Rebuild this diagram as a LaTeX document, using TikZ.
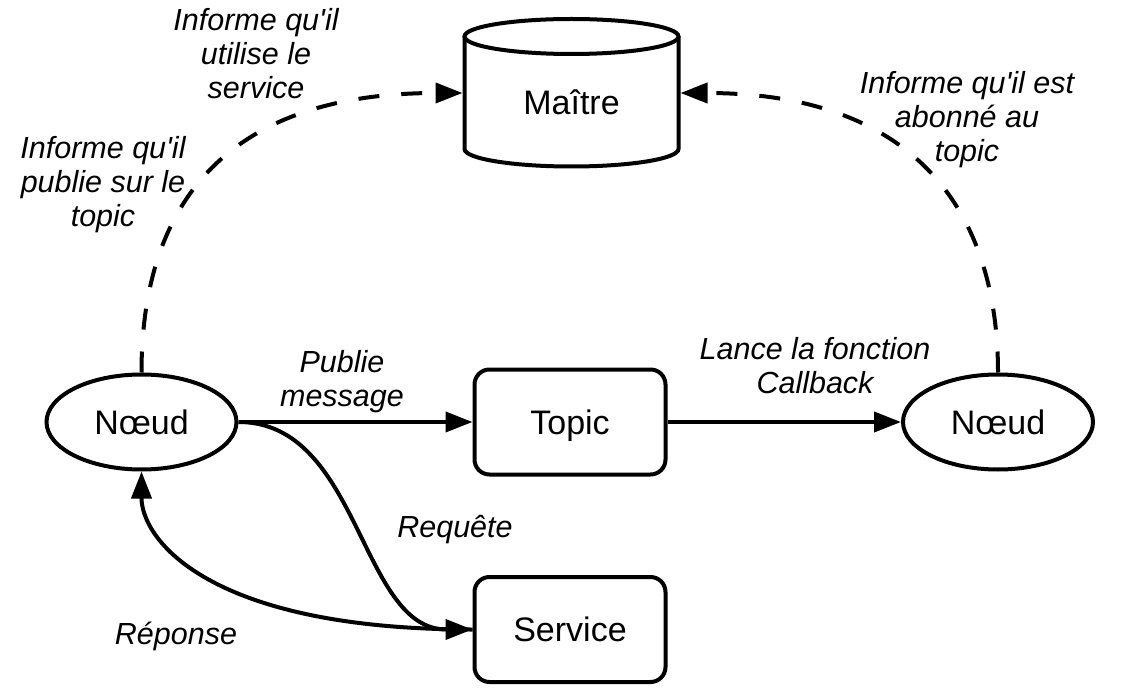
\documentclass[tikz,border=0pt]{standalone}
\usepackage{fontspec}
\setmainfont{Liberation Sans}
\usetikzlibrary{arrows.meta,shapes.geometric}
\newcommand{\apos}{\textquotesingle}
\begin{document}
\begin{tikzpicture}[x=1pt,y=-1pt,
  line width=4pt,
  every node/.style={font=\fontsize{34}{40}\selectfont},
  nodeshape/.style={draw, ellipse, minimum width=190pt, minimum height=95pt, inner sep=0pt, fill=white, text depth=0pt},
  boxshape/.style={draw, rounded corners=15pt, minimum width=191pt, minimum height=105pt, inner sep=0pt, fill=white, text depth=0pt},
  lbl/.style={align=center, font=\fontsize{30.5}{34}\selectfont\itshape, inner sep=0pt},
  conn/.style={-{Triangle[length=27pt,width=20pt]}},
  dconn/.style={conn, dash pattern=on 21pt off 22pt}
]
\useasboundingbox[fill=white] (0,0) rectangle (1148,700);

% Maitre (cylinder)
\node[minimum width=214pt, minimum height=150pt, inner sep=0pt] (maitre) at (571.5,93) {};
\draw[fill=white] (464.5,36.5) -- (464.5,149) arc[start angle=180, end angle=360, x radius=107pt, y radius=17.5pt] -- (678.5,36.5);
\draw (571.5,36.5) ellipse[x radius=107pt, y radius=17.5pt];
\node (maitretxt) at (571.5,102.5) {Maître};

% nodes
\node[nodeshape] (n1) at (141.5,422) {Nœud};
\node[nodeshape] (n2) at (998,422) {Nœud};
\node[boxshape] (topic) at (570,422) {Topic};
\node[boxshape] (service) at (570,629.5) {Service};

% connectors
\draw[conn] (n1.east) -- (topic.west);
\draw[conn] (topic.east) -- (n2.west);
\draw[conn] (n1.east) .. controls +(122,0) and +(-113,0) .. (service.west);
\draw[conn] (service.west) .. controls +(-264,0) and +(0,68) .. (n1.south);
\draw[dconn] (n1.north) .. controls +(0,-128) and +(-272,0) .. (maitre.west);
\draw[dconn] (n2.north) .. controls +(0,-152) and +(243,0) .. (maitre.east);

% labels
\node[lbl] (l1) at (342,382) {Publie\\message};
\node[lbl] (l2) at (815,365.5) {Lance la fonction\\Callback};
\node[lbl] (l3) at (455,530) {Requête};
\node[lbl] (l4) at (176,636) {Réponse};
\node[lbl] (l5) at (256,54) {Informe qu\apos il\\utilise le\\service};
\node[lbl] (l6) at (103,184.5) {Informe qu\apos il\\publie sur le\\topic};
\node[lbl] (l7) at (967,119.5) {Informe qu\apos il est\\abonné au\\topic};
\end{tikzpicture}
\end{document}
